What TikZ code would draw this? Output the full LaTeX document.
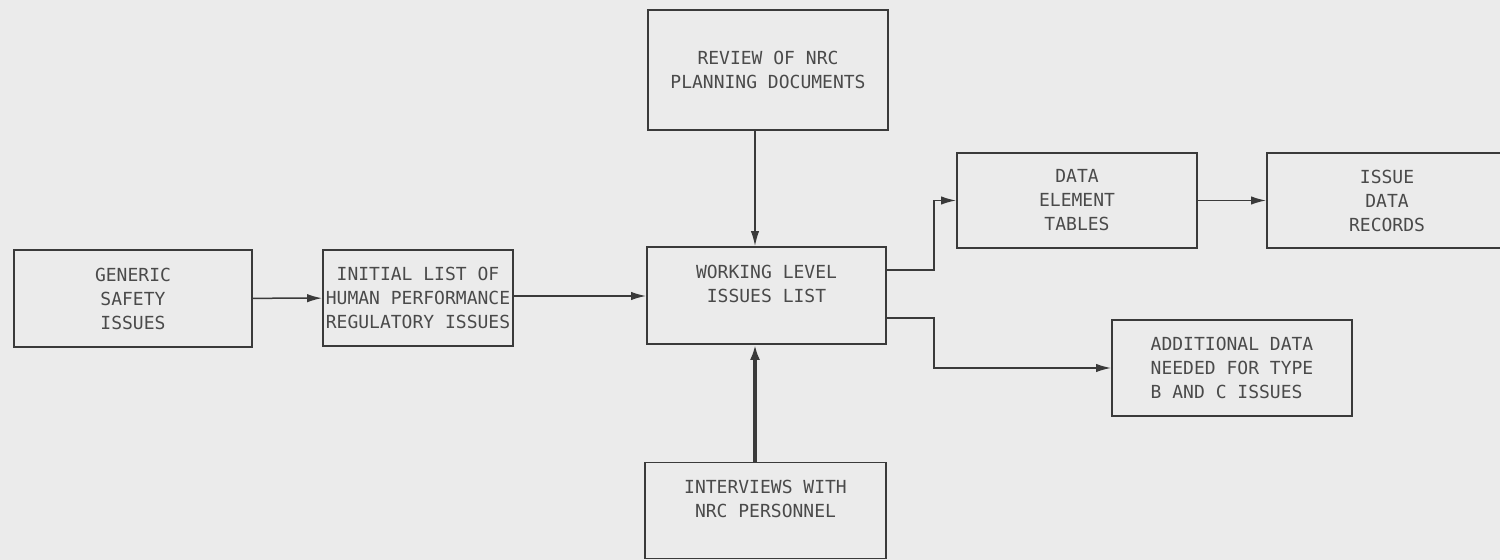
\documentclass[tikz,border=0pt]{standalone}
\usepackage{fontspec}
\setmonofont{DejaVu Sans Mono}
\usetikzlibrary{arrows.meta}
\definecolor{bgc}{HTML}{EBEBEB}
\definecolor{linec}{HTML}{3A3A3A}
\definecolor{textc}{HTML}{4A4A4A}
\begin{document}
\begin{tikzpicture}[x=0.5pt,y=-0.5pt,
  box/.style={draw=linec, line width=0.9pt, rectangle, inner sep=0pt, align=center,
    font=\ttfamily\fontsize{9}{12}\selectfont, text=textc},
  conn/.style={draw=linec, line width=0.75pt, -{Latex[length=7.5pt,width=4.2pt]}},
  thickconn/.style={draw=linec, line width=1.6pt, -{Latex[length=7.5pt,width=5pt]}}]
\fill[bgc] (0,0) rectangle (1500,560);
\useasboundingbox (0,0) rectangle (1500,560);

\node[box, minimum width=119pt, minimum height=48.5pt] (gsi) at (133,298.5) {GENERIC\\SAFETY\\ISSUES};
\node[box, minimum width=95pt, minimum height=48pt] (isi) at (418,298) {INITIAL LIST OF\\HUMAN PERFORMANCE\\REGULATORY ISSUES};
\node[box, minimum width=119.5pt, minimum height=48.5pt] (wl) at (766.5,295.5) {WORKING LEVEL\\ISSUES LIST\\ };
\node[box, minimum width=120pt, minimum height=60pt] (rev) at (768,70) {REVIEW OF NRC\\PLANNING DOCUMENTS};
\node[box, minimum width=120.5pt, minimum height=48pt] (int) at (765.5,510.5) {INTERVIEWS WITH\\NRC PERSONNEL\\ };
\node[box, minimum width=120pt, minimum height=47.5pt] (det) at (1077,200.5) {DATA\\ELEMENT\\TABLES};
\node[box, minimum width=120pt, minimum height=47.5pt] (iss) at (1387,200.5) {ISSUE\\DATA\\RECORDS};
\node[box, align=left, minimum width=120pt, minimum height=48pt] (add) at (1232,368) {ADDITIONAL DATA\\NEEDED FOR TYPE\\B AND C ISSUES};

\draw[conn] (gsi) -- (isi);
\draw[conn] ([yshift=1pt]isi.east) -- ([yshift=1pt]isi.east -| wl.west);
\draw[conn] ([xshift=-6.5pt]rev.south) -- ([xshift=-6.5pt]rev.south |- wl.north);
\draw[thickconn] ([xshift=-5.25pt]int.north) -- ([xshift=-5.25pt]int.north |- wl.south);
\draw[conn] ([yshift=12.75pt]wl.east) -- ++(23.5pt,0) |- (det.west);
\draw[conn] ([yshift=-11.25pt]wl.east) -- ++(23.5pt,0) |- (add.west);
\draw[conn] (det) -- (iss);
\end{tikzpicture}
\end{document}
